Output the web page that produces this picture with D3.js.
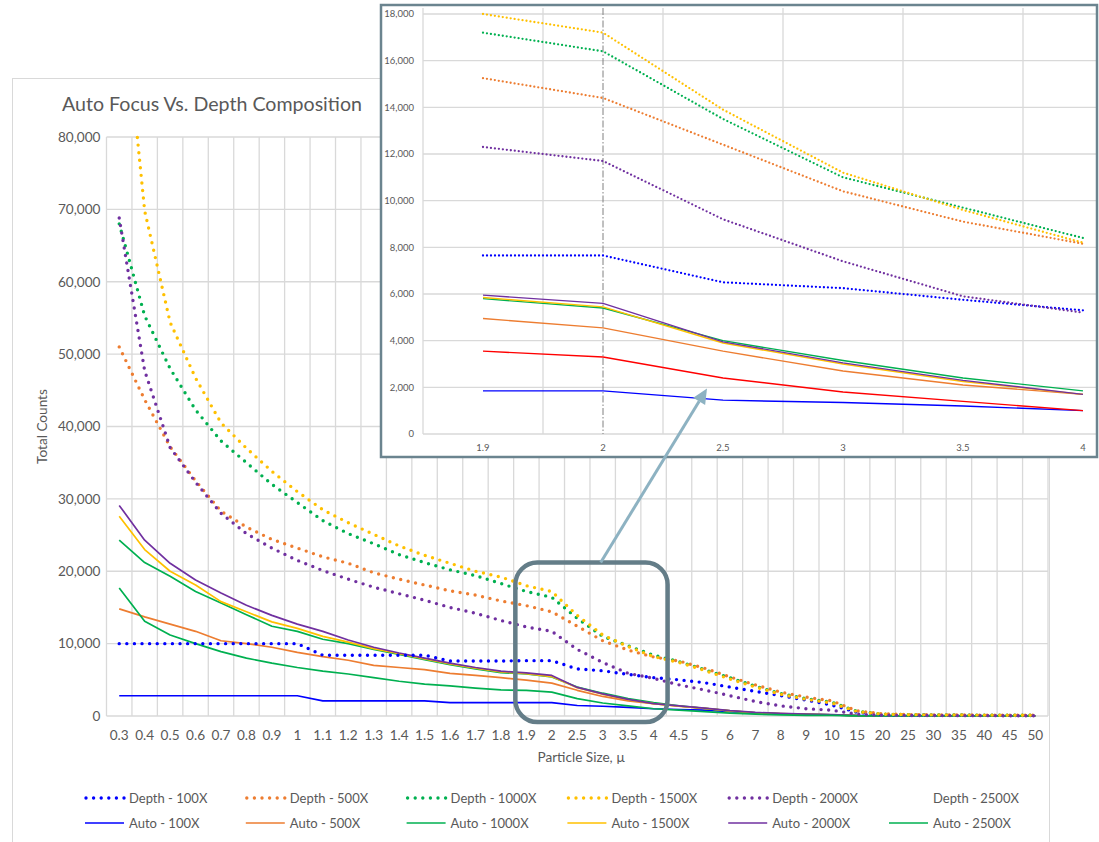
<!DOCTYPE html>
<html>
<head>
<meta charset="utf-8">
<script src="https://cdn.jsdelivr.net/npm/d3@7"></script>
<style>
  body { margin: 0; background: #fff; }
  svg { display: block; font-family: Lato, "Open Sans", sans-serif; }
</style>
</head>
<body>
<svg id="chart" width="1099" height="842"></svg>
<script>
// particle size categories (x axis)
const categories = ["0.3", "0.4", "0.5", "0.6", "0.7", "0.8", "0.9", "1", "1.1", "1.2", "1.3", "1.4", "1.5", "1.6", "1.7", "1.8", "1.9", "2",
    "2.5", "3", "3.5", "4", "4.5", "5", "6", "7", "8", "9", "10", "15", "20", "25", "30", "35", "40", "45", "50"];

// Depth composition counts
const depth100 = [10000, 10000, 10000, 10000, 10000, 10000, 10000, 10000, 8400, 8400, 8400, 8400, 8400, 7600, 7600, 7600, 7650, 7650,
    6500, 6250, 5750, 5300, 5000, 4600, 4000, 3400, 2800, 2200, 1500, 500, 200, 150, 120, 100, 90, 80, 70];
const depth500 = [51000, 43700, 37200, 32500, 28300, 26100, 24400, 23200, 22000, 21100, 19800, 18900, 18100, 17300, 16700, 15900, 15250, 14400,
    12400, 10400, 9100, 8150, 7600, 6600, 5400, 4300, 3300, 2600, 2100, 700, 300, 200, 150, 150, 120, 120, 100];
const depth1000 = [68000, 55300, 48000, 42300, 38000, 35000, 32000, 29500, 27000, 25200, 23800, 22300, 21200, 20200, 19400, 18300, 17200, 16400,
    13500, 11000, 9700, 8400, 7500, 6400, 5300, 4100, 3100, 2400, 1900, 650, 250, 180, 150, 130, 120, 110, 100];
const depth1500 = [105000, 69800, 54400, 46700, 40500, 37000, 33800, 31000, 28500, 26700, 25100, 23500, 22200, 21100, 20000, 19200, 18000, 17200,
    13900, 11200, 9600, 8200, 7400, 6300, 5100, 4000, 3000, 2300, 1800, 600, 250, 180, 150, 130, 120, 110, 100];
const depth2000 = [68800, 47700, 37100, 32300, 28000, 25200, 23200, 21500, 20100, 18900, 17800, 16900, 16000, 15000, 14200, 13200, 12300, 11700,
    9200, 7400, 5900, 5200, 4300, 3600, 2800, 2000, 1400, 1000, 800, 250, 100, 80, 60, 50, 50, 40, 40];
const depth2500 = [];

// Auto focus counts
const auto100 = [2800, 2800, 2800, 2800, 2800, 2800, 2800, 2800, 2100, 2100, 2100, 2100, 2100, 1850, 1850, 1850, 1850, 1850,
    1450, 1350, 1200, 1000, 900, 800, 600, 400, 300, 200, 150, 50, 20, 10, 10, 10, 10, 10, 10];
const auto500 = [14800, 13700, 12700, 11700, 10400, 10000, 9500, 8800, 8200, 7700, 7000, 6700, 6400, 5900, 5600, 5300, 4950, 4550,
    3550, 2700, 2100, 1700, 1350, 1050, 700, 450, 300, 220, 160, 50, 25, 20, 15, 10, 10, 10, 10];
const auto1000 = [24300, 21200, 19300, 17200, 15600, 14000, 12400, 11700, 10600, 10000, 9200, 8500, 7800, 7100, 6500, 6000, 5800, 5400,
    4000, 3150, 2400, 1850, 1400, 1050, 700, 450, 300, 220, 160, 50, 25, 20, 15, 10, 10, 10, 10];
const auto1500 = [27600, 23000, 20000, 18100, 15800, 14400, 13000, 12100, 11000, 10200, 9300, 8600, 7900, 7200, 6600, 6100, 5850, 5450,
    3900, 3000, 2250, 1700, 1350, 1050, 700, 450, 320, 230, 170, 55, 25, 20, 15, 10, 10, 10, 10];
const auto2000 = [29100, 24300, 21100, 18800, 17000, 15300, 13900, 12700, 11700, 10500, 9500, 8700, 8000, 7300, 6700, 6200, 5950, 5600,
    3950, 3050, 2300, 1700, 1400, 1100, 750, 500, 350, 250, 180, 60, 30, 20, 15, 10, 10, 10, 10];
const auto2500 = [17700, 13100, 11200, 10000, 8900, 8000, 7300, 6700, 6200, 5800, 5300, 4800, 4400, 4150, 3850, 3600, 3550, 3300,
    2400, 1800, 1400, 1000, 800, 600, 400, 250, 150, 100, 80, 30, 15, 10, 10, 10, 10, 10, 10];

const yTicks = [0, 10000, 20000, 30000, 40000, 50000, 60000, 70000, 80000];
const insetCategories = ["1.9", "2", "2.5", "3", "3.5", "4"];
const insetYTicks = [0, 2000, 4000, 6000, 8000, 10000, 12000, 14000, 16000, 18000];

const series = [
    { name: "Depth - 100X", values: depth100, color: "#0000FF", dotted: true },
    { name: "Depth - 500X", values: depth500, color: "#ED7D31", dotted: true },
    { name: "Depth - 1000X", values: depth1000, color: "#00B050", dotted: true },
    { name: "Depth - 1500X", values: depth1500, color: "#FFC000", dotted: true },
    { name: "Depth - 2000X", values: depth2000, color: "#7030A0", dotted: true },
    { name: "Depth - 2500X", values: depth2500, color: "none", dotted: true },
    { name: "Auto - 100X", values: auto100, color: "#0000FF", dotted: false },
    { name: "Auto - 500X", values: auto500, color: "#ED7D31", dotted: false },
    { name: "Auto - 1000X", values: auto1000, color: "#00B050", dotted: false },
    { name: "Auto - 1500X", values: auto1500, color: "#FFC000", dotted: false },
    { name: "Auto - 2000X", values: auto2000, color: "#7030A0", dotted: false },
    { name: "Auto - 2500X", values: auto2500, color: "#00B050", insetColor: "#FF0000", dotted: false }
];

const textColor = "#595959";
const gridColor = "#d9d9d9";
const fmt = d3.format(",");

const svg = d3.select("#chart");

// ---------- main chart ----------
const plot = { left: 106.5, right: 1048, top: 137, bottom: 716 };

const x = d3.scalePoint()
    .domain(categories)
    .range([plot.left, plot.right])
    .padding(0.5);
const step = x.step();

const y = d3.scaleLinear()
    .domain([0, 80000])
    .range([plot.bottom, plot.top]);

svg.append("rect")
    .attr("x", 12.5).attr("y", 78.5)
    .attr("width", 1037).attr("height", 800)
    .attr("fill", "#fff")
    .attr("stroke", gridColor);

svg.append("text")
    .attr("x", 62).attr("y", 111)
    .attr("fill", textColor)
    .attr("font-size", 19.6)
    .text("Auto Focus Vs. Depth Composition");

const grid = svg.append("g").attr("stroke", gridColor).attr("stroke-width", 1.3);
grid.selectAll("line.h")
    .data(yTicks)
    .join("line")
    .attr("class", "h")
    .attr("x1", plot.left).attr("x2", plot.right)
    .attr("y1", (d) => y(d)).attr("y2", (d) => y(d));
grid.selectAll("line.v")
    .data(categories.map((c) => x(c) - step / 2).concat([plot.right]))
    .join("line")
    .attr("class", "v")
    .attr("x1", (d) => d).attr("x2", (d) => d)
    .attr("y1", plot.top).attr("y2", plot.bottom);

svg.append("g")
    .selectAll("text")
    .data(yTicks)
    .join("text")
    .attr("x", plot.left - 6)
    .attr("y", (d) => y(d))
    .attr("dy", "0.35em")
    .attr("text-anchor", "end")
    .attr("fill", textColor)
    .attr("font-size", 13.6)
    .text((d) => fmt(d));

svg.append("g")
    .selectAll("text")
    .data(categories)
    .join("text")
    .attr("x", (d) => x(d))
    .attr("y", plot.bottom + 24)
    .attr("text-anchor", "middle")
    .attr("fill", textColor)
    .attr("font-size", 13.6)
    .text((d) => d);

svg.append("text")
    .attr("transform", `translate(47, ${(plot.top + plot.bottom) / 2}) rotate(-90)`)
    .attr("text-anchor", "middle")
    .attr("fill", textColor)
    .attr("font-size", 13.6)
    .text("Total Counts");

svg.append("text")
    .attr("x", (plot.left + plot.right) / 2 + 4)
    .attr("y", 762)
    .attr("text-anchor", "middle")
    .attr("fill", textColor)
    .attr("font-size", 13.6)
    .text("Particle Size, µ");

const defs = svg.append("defs");
defs.append("clipPath").attr("id", "main-clip")
    .append("rect")
    .attr("x", plot.left).attr("y", plot.top - 3)
    .attr("width", plot.right - plot.left).attr("height", plot.bottom - plot.top + 6);

const line = d3.line()
    .x((d, i) => x(categories[i]))
    .y((d) => y(d));

const drawOrder = [6, 7, 8, 9, 10, 11, 0, 1, 2, 3, 4, 5];
svg.append("g")
    .attr("clip-path", "url(#main-clip)")
    .selectAll("path")
    .data(drawOrder.map((i) => series[i]).filter((s) => s.values.length))
    .join("path")
    .attr("fill", "none")
    .attr("stroke", (d) => d.color)
    .attr("stroke-width", (d) => d.dotted ? 3.4 : 1.7)
    .attr("stroke-linecap", (d) => d.dotted ? "round" : "butt")
    .attr("stroke-linejoin", "round")
    .attr("stroke-dasharray", (d) => d.dotted ? "0 7.6" : null)
    .attr("d", (d) => line(d.values));

// legend
const legend = svg.append("g");
const legendItems = legend.selectAll("g")
    .data(series)
    .join("g")
    .attr("transform", (d, i) => `translate(${84 + (i % 6) * 160.8}, ${i < 6 ? 798 : 823})`);
legendItems.filter((d) => d.color !== "none")
    .append("line")
    .attr("x1", (d) => d.dotted ? 2 : 1)
    .attr("x2", 40)
    .attr("stroke", (d) => d.color)
    .attr("stroke-width", (d) => d.dotted ? 3.4 : 1.7)
    .attr("stroke-linecap", (d) => d.dotted ? "round" : "butt")
    .attr("stroke-dasharray", (d) => d.dotted ? "0 7.6" : null);
legendItems.append("text")
    .attr("x", 45)
    .attr("dy", "0.35em")
    .attr("fill", textColor)
    .attr("font-size", 13)
    .text((d) => d.name);

// callout box round the 1.9 - 4 region
const boxLeft = x("1.9") - 11;
const boxRight = x("4") + 14;
const boxTop = y(21200);
const boxBottom = plot.bottom + 6;
svg.append("rect")
    .attr("x", boxLeft).attr("y", boxTop)
    .attr("width", boxRight - boxLeft).attr("height", boxBottom - boxTop)
    .attr("rx", 22)
    .attr("fill", "none")
    .attr("stroke", "#647d88")
    .attr("stroke-width", 4.5);

// ---------- inset (zoomed view of 1.9 - 4) ----------
const inset = { x0: 381, y0: 5, x1: 1097, y1: 457 };
const ip = { left: 423, top: 14, bottom: 434 };

const ix = d3.scalePoint()
    .domain(insetCategories)
    .range([ip.left, ip.left + 720])
    .padding(0.5);
const iy = d3.scaleLinear()
    .domain([0, 18000])
    .range([ip.bottom, ip.top]);

defs.append("clipPath").attr("id", "inset-clip")
    .append("rect")
    .attr("x", inset.x0).attr("y", inset.y0)
    .attr("width", inset.x1 - inset.x0).attr("height", inset.y1 - inset.y0);

const ig = svg.append("g");
ig.append("rect")
    .attr("x", inset.x0).attr("y", inset.y0)
    .attr("width", inset.x1 - inset.x0).attr("height", inset.y1 - inset.y0)
    .attr("fill", "#fff");

const ic = ig.append("g").attr("clip-path", "url(#inset-clip)");
const igrid = ic.append("g").attr("stroke", gridColor).attr("stroke-width", 1.3);
igrid.selectAll("line.h")
    .data(insetYTicks)
    .join("line")
    .attr("class", "h")
    .attr("x1", ip.left).attr("x2", inset.x1)
    .attr("y1", (d) => iy(d)).attr("y2", (d) => iy(d));
igrid.selectAll("line.v")
    .data(insetCategories.map((c) => ix(c) - ix.step() / 2))
    .join("line")
    .attr("class", "v")
    .attr("x1", (d) => d).attr("x2", (d) => d)
    .attr("y1", ip.top - 6).attr("y2", ip.bottom);

ic.append("line")
    .attr("x1", ix("2")).attr("x2", ix("2"))
    .attr("y1", ip.top - 6).attr("y2", ip.bottom)
    .attr("stroke", "#808080")
    .attr("stroke-width", 1)
    .attr("stroke-dasharray", "7 2 1.5 2");

ig.append("g")
    .selectAll("text")
    .data(insetYTicks)
    .join("text")
    .attr("x", ip.left - 9)
    .attr("y", (d) => iy(d))
    .attr("dy", "0.35em")
    .attr("text-anchor", "end")
    .attr("fill", textColor)
    .attr("font-size", 9.5)
    .text((d) => fmt(d));

ic.append("g")
    .selectAll("text")
    .data(insetCategories)
    .join("text")
    .attr("x", (d) => ix(d))
    .attr("y", 451)
    .attr("text-anchor", "middle")
    .attr("fill", textColor)
    .attr("font-size", 9.5)
    .text((d) => d);

const insetStart = categories.indexOf("1.9");
const insetLine = d3.line()
    .x((d, i) => ix(insetCategories[i]))
    .y((d) => iy(d));

ic.append("g")
    .selectAll("path")
    .data(drawOrder.map((i) => series[i]).filter((s) => s.values.length))
    .join("path")
    .attr("fill", "none")
    .attr("stroke", (d) => d.insetColor || d.color)
    .attr("stroke-width", (d) => d.dotted ? 2.3 : 1.4)
    .attr("stroke-linecap", (d) => d.dotted ? "round" : "butt")
    .attr("stroke-linejoin", "round")
    .attr("stroke-dasharray", (d) => d.dotted ? "0 4" : null)
    .attr("d", (d) => insetLine(d.values.slice(insetStart, insetStart + insetCategories.length)));

ig.append("rect")
    .attr("x", inset.x0).attr("y", inset.y0)
    .attr("width", inset.x1 - inset.x0).attr("height", inset.y1 - inset.y0)
    .attr("fill", "none")
    .attr("stroke", "#6b848f")
    .attr("stroke-width", 2.5);

// arrow from callout box to inset
const arrowFrom = [x("3") - 2, boxTop];
const arrowTo = [ix("2.5") - 16, iy(1950)];
const ang = Math.atan2(arrowTo[1] - arrowFrom[1], arrowTo[0] - arrowFrom[0]);
const headLen = 15, headW = 7;
const base = [arrowTo[0] - headLen * Math.cos(ang), arrowTo[1] - headLen * Math.sin(ang)];
svg.append("line")
    .attr("x1", arrowFrom[0]).attr("y1", arrowFrom[1])
    .attr("x2", base[0]).attr("y2", base[1])
    .attr("stroke", "#8db2c2")
    .attr("stroke-width", 3);
svg.append("path")
    .attr("d", d3.line()([
        arrowTo,
        [base[0] + headW * Math.sin(ang), base[1] - headW * Math.cos(ang)],
        [base[0] - headW * Math.sin(ang), base[1] + headW * Math.cos(ang)]
    ]) + "Z")
    .attr("fill", "#8db2c2");
</script>
</body>
</html>
